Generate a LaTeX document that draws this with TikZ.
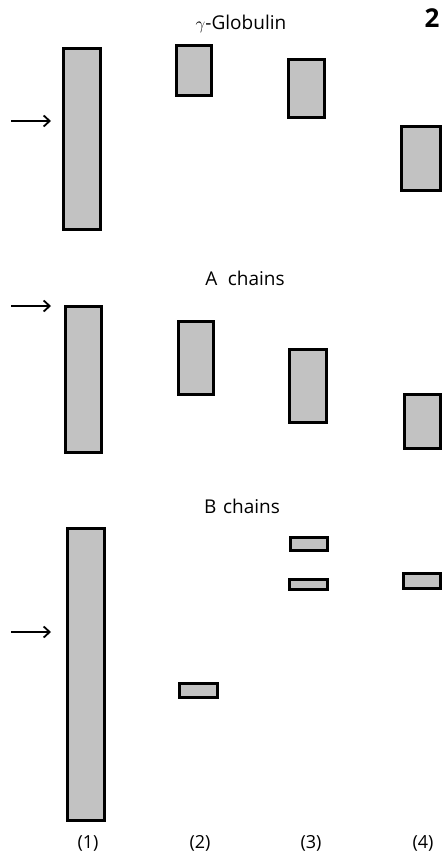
\documentclass[tikz,border=0pt]{standalone}
\usepackage{fontspec}
\setmainfont{Open Sans}
\usepackage{tikz}
\usetikzlibrary{arrows.meta}

\begin{document}
\begin{tikzpicture}[x=1pt,y=-1pt,
      band/.style={rectangle,draw,line width=3pt,fill=black!24,inner sep=0pt},
      ttl/.style={font=\fontsize{19}{22}\selectfont},
      lane/.style={font=\fontsize{18}{21}\selectfont},
      mk/.style={line width=1.8pt,-{Straight Barb[length=6pt,width=11pt,line width=1.8pt]}}]
    \useasboundingbox (0,0) rectangle (443,861);
    % section titles and plate number
    \node[ttl] (tg) at (241,24) {$\gamma$-Globulin};
    \node[ttl] (ta) at (245,278) {A\hspace{0.55em}chains};
    \node[ttl] (tb) at (242,506) {B\hspace{0.35em}chains};
    \node[font=\fontsize{26}{28}\selectfont\bfseries] (pl) at (432,18) {2};
    % bands: name/x/y/width/height
    \foreach \nm/\cx/\cy/\w/\h in {g1/82/139/37/181, g2/194/70.5/35/50, g3/306.5/88.5/36/58, g4/421/158.5/39/64,
        a1/83.5/379.5/36/146, a2/196/358/35/73, a3/308/386/37/73, a4/422.5/421.5/36/54,
        b1/86/674.5/37/292, b2/198.5/690.5/38/14, b3u/309/544/37/13, b3l/308.5/584.5/38/10, b4/422/581/37/15}
      \node[band,minimum width=\w pt,minimum height=\h pt] (\nm) at (\cx,\cy) {};
    % start markers
    \foreach \k/\ay in {g/121,a/306,b/632} {
      \coordinate (\k s) at (11,\ay);
      \coordinate (\k e) at (51,\ay);
      \draw[mk] (\k s) -- (\k e);
    }
    % lane numbers
    \foreach \i/\lx in {1/88,2/200,3/311,4/423}
      \node[lane] (n\i) at (\lx,843) {(\i)};
  \end{tikzpicture}
\end{document}
